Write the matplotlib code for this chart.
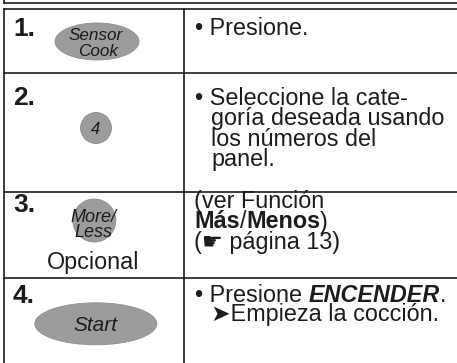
import matplotlib
matplotlib.use("Agg")
import matplotlib.pyplot as plt
from matplotlib.patches import Ellipse

FONT = ["Liberation Sans", "DejaVu Sans"]
INK = "#1c1c1c"
BUTTON_GRAY = "#9c9c9c"

# table content
step_labels = ["1.", "2.", "3.", "4."]
button_lines = [["Sensor", "Cook"], ["4"], ["More/", "Less"], ["Start"]]
button_notes = ["", "", "Opcional", ""]

# each line is a list of runs: (text, weight, style)
instructions = [
    [[("• Presione.", "normal", "normal")]],
    [[("• Seleccione la cate-", "normal", "normal")],
     [("goría deseada usando", "normal", "normal")],
     [("los números del", "normal", "normal")],
     [("panel.", "normal", "normal")]],
    [[("(ver Función", "normal", "normal")],
     [("Más", "bold", "normal"), ("/", "normal", "normal"),
      ("Menos", "bold", "normal"), (")", "normal", "normal")],
     [("(\u261b página 13)", "normal", "normal")]],
    [[("• Presione ", "normal", "normal"), ("ENCENDER", "bold", "italic"),
      (".", "normal", "normal")],
     [("\u27a4Empieza la cocción.", "normal", "normal")]],
]

# layout (pixel coordinates, y down)
W, H = 457, 363
col_x = 184.3
row_tops = [9.3, 72.7, 191.7, 277.7]
label_baselines = [36, 105, 212, 303]
line_baselines = [[35], [105, 125, 145.5, 166], [208, 228.5, 248.5], [301.5, 321.5]]
line_x = [[195], [195, 211, 211, 211], [194, 194, 194], [195, 211]]

# button shapes: (cx, cy, w, h)
shapes = [(97, 41.5, 84, 37), (96, 128, 31, 31), (94.3, 220.5, 43, 43), (95.8, 323.8, 122, 42)]
btn_text_pos = [[(96, 40), (98, 56.5)], [(96, 134)], [(93.5, 221.7), (93, 236.7)], [(95, 330.7)]]
btn_size = [12.3, 12, 13, 15]
note_pos = [None, None, (93.5, 269.3), None]

BODY = 16.8

fig = plt.figure(figsize=(W / 100, H / 100), dpi=100)
ax = fig.add_axes([0, 0, 1, 1])
ax.set_xlim(0, W)
ax.set_ylim(H, 0)
ax.axis("off")

lw = 1.2
# bottom of the box above the table
ax.plot([3.5, 3.5], [0, 3.3], color=INK, lw=lw)
ax.plot([3.5, W], [3.3, 3.3], color=INK, lw=lw)
# table grid
ax.plot([4, 4], [row_tops[0], H], color=INK, lw=lw)
ax.plot([col_x, col_x], [row_tops[0], H], color=INK, lw=lw)
for y in row_tops:
    ax.plot([4, W], [y, y], color=INK, lw=lw)

renderer = fig.canvas.get_renderer()


def run_width(text, weight, style):
    t = ax.text(0, 0, text + "|", fontsize=BODY, family=FONT, weight=weight, style=style)
    b = ax.text(0, 0, "|", fontsize=BODY, family=FONT, weight=weight, style=style)
    w = t.get_window_extent(renderer).width - b.get_window_extent(renderer).width
    t.remove()
    b.remove()
    return w


for i, label in enumerate(step_labels):
    ax.text(13, label_baselines[i], label, fontsize=19, weight="bold", family=FONT,
            color=INK, ha="left", va="baseline")

    cx, cy, w, h = shapes[i]
    ax.add_patch(Ellipse((cx, cy), w, h, facecolor=BUTTON_GRAY, edgecolor="#8e8e8e", lw=0.6))
    for txt, (tx, ty) in zip(button_lines[i], btn_text_pos[i]):
        ax.text(tx, ty, txt, fontsize=btn_size[i], style="italic", family=FONT,
                color=INK, ha="center", va="baseline")
    if button_notes[i]:
        nx, ny = note_pos[i]
        ax.text(nx, ny, button_notes[i], fontsize=BODY, family=FONT, color=INK,
                ha="center", va="baseline")

    for runs, x, y in zip(instructions[i], line_x[i], line_baselines[i]):
        for text, weight, style in runs:
            ax.text(x, y, text, fontsize=BODY, family=FONT, weight=weight, style=style,
                    color=INK, ha="left", va="baseline")
            x += run_width(text, weight, style)

fig.savefig("out.png", dpi=100)
